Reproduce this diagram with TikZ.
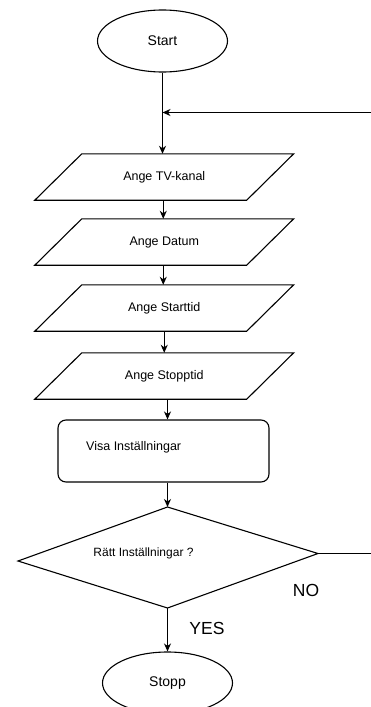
\documentclass[tikz,border=0pt]{standalone}
\usepackage{fontspec}
\setmainfont{Liberation Sans}
\usetikzlibrary{arrows.meta,shapes.geometric,calc}

\tikzset{
  shapeline/.style={draw=black,line width=1.1pt,fill=white},
  terminal/.style={shapeline,ellipse,minimum width=130pt,minimum height=62pt,inner sep=0pt,font=\fontsize{14}{16}\selectfont},
  ioframe/.style={inner sep=0pt,minimum width=211.5pt,minimum height=46pt,font=\fontsize{12.5}{14}\selectfont},
  process/.style={shapeline,rounded corners=8pt,minimum width=211pt,minimum height=62pt,inner sep=0pt},
  flow/.style={draw=black,line width=1.1pt,-{Stealth[length=8pt,width=7pt,inset=2.5pt]}},
  answer/.style={font=\fontsize{17.5}{20}\selectfont,inner sep=0pt}
}

\begin{document}
\begin{tikzpicture}[x=1pt,y=-1pt]
  \useasboundingbox[fill=white] (0,0) rectangle (371,707);

  % start terminal and loop junction
  \node[terminal] (start) at (162.5,41) {Start};
  \coordinate (join) at (162.5,112.5);

  % input steps (parallelograms drawn around text frames)
  \node[ioframe] (p1) at (164.25,177) {Ange TV-kanal};
  \node[ioframe] (p2) at (164.25,242) {Ange Datum};
  \node[ioframe] (p3) at (164.25,308) {Ange Starttid};
  \node[ioframe] (p4) at (164.25,376) {Ange Stopptid};
  \foreach \n in {p1,p2,p3,p4}{
    \path[shapeline,fill=none] ([xshift=23.5pt]\n.north west) -- ([xshift=23.5pt]\n.north east)
      -- ([xshift=-23.5pt]\n.south east) -- ([xshift=-23.5pt]\n.south west) -- cycle;
  }

  % display step
  \node[process] (show) at (163.5,451) {};
  \node[anchor=west,inner sep=0pt,font=\fontsize{12.5}{14}\selectfont] (showtext) at (86,447) {Visa Inställningar};

  % decision
  \coordinate (dtop) at (167.5,507);
  \coordinate (dleft) at (18,561);
  \coordinate (dright) at (318,553.5);
  \coordinate (dbot) at (167.5,608);
  \path[shapeline] (dtop) -- (dright) -- (dbot) -- (dleft) -- cycle;
  \node[inner sep=0pt,font=\fontsize{12}{14}\selectfont] (dectext) at (143.5,553) {Rätt Inställningar ?};

  % stop terminal
  \node[terminal] (stop) at (167.5,683) {Stopp};

  % branch labels
  \node[answer] (no) at (306,590) {NO};
  \node[answer] (yes) at (207,628) {YES};

  % connectors
  \path[flow] (start.south) -- (start.south |- p1.north);
  \path[flow] ([xshift=-1pt]p1.south) -- ([xshift=-1pt]p2.north);
  \path[flow] ([xshift=-1pt]p2.south) -- ([xshift=-1pt]p3.north);
  \path[flow] (p3.south) -- (p4.north);
  \path[flow] (p4.south -| dtop) -- (show.north -| dtop);
  \path[flow] (show.south -| dtop) -- (dtop);
  \path[flow] (dbot) -- (stop.north);
  \path[flow] (dright) -- (376,553.5) -- (376,112.5) -- (join);
\end{tikzpicture}
\end{document}
